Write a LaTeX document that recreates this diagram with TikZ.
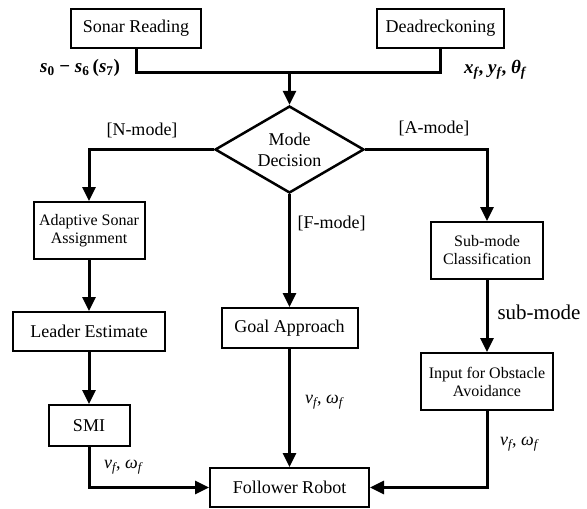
\documentclass[tikz,border=0pt]{standalone}
\usepackage{fontspec}
\setmainfont{Liberation Serif}
\usetikzlibrary{arrows.meta, positioning, shapes.geometric, calc}

\begin{document}
\begin{tikzpicture}[
  x=1pt, y=-1pt,
  every node/.style={font=\fontsize{18}{20}\selectfont},
  bignode/.style={rectangle, draw=black, line width=2pt, inner sep=0pt, align=center, font=\fontsize{18}{20}\selectfont},
  smallnode/.style={rectangle, draw=black, line width=2pt, inner sep=0pt, align=center, font=\fontsize{16}{18}\selectfont},
  decnode/.style={diamond, draw=black, line width=2.5pt, inner sep=0pt, aspect=1.7, minimum width=149pt, minimum height=87pt, align=center, font=\fontsize{18}{21}\selectfont},
  flow/.style={-{Triangle[length=14pt,width=13pt]}, line width=3pt},
  link/.style={line width=3pt},
]
\useasboundingbox (0,0) rectangle (587,509);

\node[bignode, minimum width=130pt, minimum height=39pt] (sonar) at (136, 28.5) {Sonar Reading};
\node[bignode, minimum width=127pt, minimum height=39pt] (dead) at (440.5, 28.5) {Deadreckoning};
\coordinate (merge) at (289.5, 72);
\node[decnode] (mode) at (289.5, 149.5) {Mode\\Decision};

\node[smallnode, minimum width=111pt, minimum height=57pt] (asa) at (89, 230.5) {Adaptive Sonar\\Assignment};
\node[bignode, minimum width=152pt, minimum height=39pt] (leader) at (89, 331.5) {Leader Estimate};
\node[bignode, minimum width=81pt, minimum height=41pt] (smi) at (89, 425.5) {SMI};
\node[bignode, minimum width=136pt, minimum height=40pt] (goal) at (289.5, 328) {Goal Approach};
\node[smallnode, minimum width=112pt, minimum height=57pt] (submode) at (487, 250.5) {Sub-mode\\Classification};
\node[smallnode, minimum width=132pt, minimum height=57pt] (input) at (487, 381.5) {Input for Obstacle\\Avoidance};
\node[bignode, minimum width=159pt, minimum height=39pt] (robot) at (289.5, 487.5) {Follower Robot};

\node (lsonar) at (80, 68) {\fontsize{19}{21}\selectfont\textbf{\textit{s}\textsubscript{0} − \textit{s}\textsubscript{6}\,(\textit{s}\textsubscript{7})}};
\node (ldead) at (495, 70) {\fontsize{19}{21}\selectfont\textbf{\textit{x\textsubscript{f}}, \textit{y\textsubscript{f}}, \textit{θ\textsubscript{f}}}};
\node (lnmode) at (142, 130) {[N-mode]};
\node (lamode) at (434, 128) {[A-mode]};
\node[anchor=west] (lfmode) at (294, 223) {[F-mode]};
\node[anchor=west, font=\fontsize{21}{23}\selectfont] (lsub) at (494, 312) {sub-mode};
\node (lvsmi) at (123, 467) {\textit{v\textsubscript{f}}, \textit{ω\textsubscript{f}}};
\node (lvgoal) at (324, 402) {\textit{v\textsubscript{f}}, \textit{ω\textsubscript{f}}};
\node (lvinput) at (519, 444) {\textit{v\textsubscript{f}}, \textit{ω\textsubscript{f}}};

\draw[link] (sonar.south) |- (merge) -| (dead.south);
\draw[flow] (merge) -- (mode.north);
\draw[flow] (mode.west) -| (asa.north);
\draw[flow] (mode.south) -- (goal.north);
\draw[flow] (mode.east) -| (submode.north);
\draw[flow] (asa.south) -- (leader.north);
\draw[flow] (leader.south) -- (smi.north);
\draw[flow] (submode.south) -- (input.north);
\draw[flow] (smi.south) |- (robot.west);
\draw[flow] (goal.south) -- (robot.north);
\draw[flow] (input.south) |- (robot.east);
\end{tikzpicture}
\end{document}
